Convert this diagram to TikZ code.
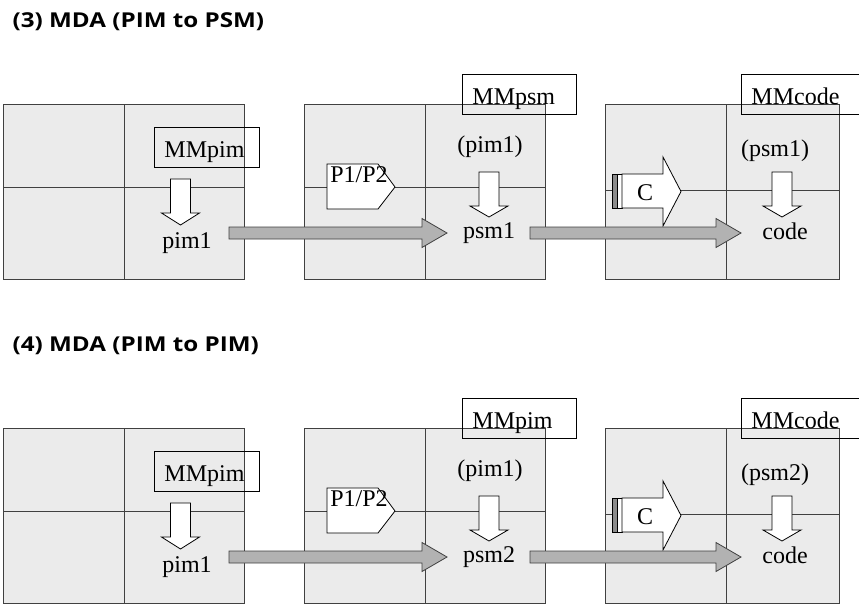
\documentclass[tikz,border=0pt]{standalone}
\usepackage{fontspec}
\setmainfont{Liberation Serif}
\newfontfamily\titlefont[FakeStretch=1.18]{Open Sans}
\usetikzlibrary{calc}

\definecolor{panelfill}{RGB}{235,235,235}
\definecolor{edgegray}{RGB}{64,64,64}
\definecolor{flowfill}{RGB}{178,178,178}
\definecolor{barfill}{RGB}{140,140,140}

\tikzset{
  panel/.style={draw=edgegray, fill=panelfill, line width=1pt,
    minimum height=175pt, anchor=north west, inner sep=0pt},
  gridline/.style={draw=edgegray, line width=0.9pt},
  mmbox/.style={draw=black, line width=0.9pt, inner xsep=10pt, inner ysep=0pt,
    text height=20pt, text depth=0pt, align=left, minimum height=40pt,
    anchor=north west, font=\fontsize{24}{28}\selectfont},
  lbl/.style={font=\fontsize{24}{28}\selectfont, inner sep=0pt, anchor=base},
  heading/.style={font=\titlefont\bfseries\fontsize{20.5}{24}\selectfont,
    anchor=base west, inner sep=0pt},
  whiteshape/.style={draw=black, fill=white, line width=0.8pt, line join=miter},
  flowshape/.style={draw=edgegray, fill=flowfill, line width=0.8pt},
}

% white block arrow pointing down: centre x, top y, shaft length, total length
\newcommand\blockdown[4]{%
  \draw[whiteshape] ({#1-10},#2) -- ({#1+10},#2) -- ({#1+10},{#2+#3})
    -- ({#1+19},{#2+#3}) -- (#1,{#2+#4}) -- ({#1-19},{#2+#3})
    -- ({#1-10},{#2+#3}) -- cycle;}

% grey transformation arrow between two named coordinates
\newcommand\flowarrow[2]{%
  \draw[flowshape] ($(#1)+(0,-6)$) -- ($(#2)+(-25,-6)$) -- ($(#2)+(-25,-14.5)$)
    -- (#2) -- ($(#2)+(-25,14.5)$) -- ($(#2)+(-25,6)$) -- ($(#1)+(0,6)$) -- cycle;}

% one MDA chain: suffix, heading, middle metamodel, middle result, right source
\newcommand\mdachain[5]{%
  \node[heading] (head#1) at (12.5,27.5) {#2};
  % three panels, each split into four quarters
  \node[panel, minimum width=241pt] (pa#1) at (3,104) {};
  \node[panel, minimum width=241pt] (pb#1) at (304,104) {};
  \node[panel, minimum width=234pt] (pc#1) at (605,104) {};
  \draw[gridline] ($(pa#1.north west)+(121,0)$) -- ($(pa#1.south west)+(121,0)$);
  \draw[gridline] ($(pa#1.north west)+(0,83)$) -- ($(pa#1.north east)+(0,83)$);
  \draw[gridline] ($(pb#1.north west)+(121,0)$) -- ($(pb#1.south west)+(121,0)$);
  \draw[gridline] ($(pb#1.north west)+(0,83)$) -- ($(pb#1.north east)+(0,83)$);
  \draw[gridline] ($(pc#1.north west)+(121,0)$) -- ($(pc#1.south west)+(121,0)$);
  \draw[gridline] ($(pc#1.north west)+(0,86.5)$) -- ($(pc#1.north east)+(0,86.5)$);
  % metamodel boxes
  \node[mmbox, text width=85pt] (mma#1) at (154,127) {MMpim};
  \node[mmbox, text width=94pt] (mmb#1) at (462,74) {#3};
  \node[mmbox, text width=110pt] (mmc#1) at (741,74) {MMcode};
  % model labels
  \node[lbl] (ra#1) at (187,248) {pim1};
  \node[lbl] (sb#1) at (490,152) {(pim1)};
  \node[lbl] (rb#1) at (489,238) {#4};
  \node[lbl] (sc#1) at (775,156) {(#5)};
  \node[lbl] (rc#1) at (785,239) {code};
  % conformance arrows
  \blockdown{180.5}{179}{34}{46}
  \blockdown{489}{172}{34}{45}
  \blockdown{782}{172}{34}{45}
  % mapping P1/P2
  \draw[whiteshape] (327,164) -- (378,164) -- (395,187) -- (378,209)
    -- (327,209) -- cycle;
  \node[lbl] (map#1) at (359,182) {P1/P2};
  % code generator C
  \draw[draw=black, fill=barfill, line width=0.8pt] (612,174) rectangle (617,208);
  \draw[whiteshape] (617,174) rectangle (622,208);
  \draw[whiteshape] (622,174) -- (663,174) -- (663,157) -- (681,191.5)
    -- (663,226) -- (663,208) -- (622,208) -- cycle;
  \node[lbl] (gen#1) at (645,200) {C};
  % transformation flow
  \coordinate (fa#1) at (229,233);
  \coordinate (fb#1) at (447,233);
  \coordinate (fc#1) at (530,233);
  \coordinate (fd#1) at (741,233);
  \flowarrow{fa#1}{fb#1}
  \flowarrow{fc#1}{fd#1}
}

\begin{document}
\begin{tikzpicture}[x=1pt, y=-1pt]
  \useasboundingbox (0,0) rectangle (859,603);
  \clip (0,0) rectangle (859,603);
  \mdachain{x}{(3) MDA (PIM to PSM)}{MMpsm}{psm1}{psm1}
  \begin{scope}[yshift=-324pt]
    \mdachain{y}{(4) MDA (PIM to PIM)}{MMpim}{psm2}{psm2}
  \end{scope}
\end{tikzpicture}
\end{document}
